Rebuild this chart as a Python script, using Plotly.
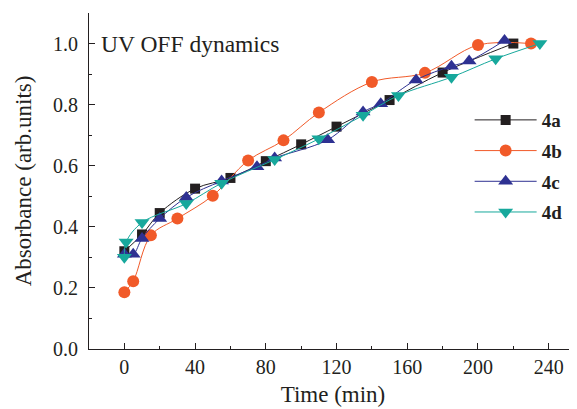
import plotly.graph_objects as go

t_4a = [0, 10, 20, 40, 60, 80, 100, 120, 150, 180, 220]
v_4a = [0.32, 0.375, 0.445, 0.525, 0.56, 0.615, 0.67, 0.728, 0.815, 0.905, 1.0]

t_4b = [0, 5, 15, 30, 50, 70, 90, 110, 140, 170, 200, 230]
v_4b = [0.186, 0.222, 0.372, 0.427, 0.502, 0.617, 0.683, 0.774, 0.874, 0.904, 0.995, 1.0]

t_4c = [0, 5, 10, 20, 35, 55, 75, 85, 115, 135, 145, 165, 185, 195, 215]
v_4c = [0.31, 0.31, 0.362, 0.427, 0.496, 0.55, 0.597, 0.625, 0.685, 0.776, 0.803, 0.881, 0.926, 0.943, 1.01]

t_4d = [0, 1, 10, 35, 55, 85, 110, 135, 155, 185, 210, 235]
v_4d = [0.30, 0.35, 0.414, 0.476, 0.543, 0.62, 0.688, 0.765, 0.83, 0.89, 0.95, 1.0]

x_ticks = [0, 40, 80, 120, 160, 200, 240]
y_ticks = [0.0, 0.2, 0.4, 0.6, 0.8, 1.0]

SERIF = "Liberation Serif, Times New Roman, serif"

series = [
    ("4a", t_4a, v_4a, "#231f20", "square", 10),
    ("4b", t_4b, v_4b, "#f15a29", "circle", 12),
    ("4c", t_4c, v_4c, "#2e3192", "triangle-up", 13),
    ("4d", t_4d, v_4d, "#17a89c", "triangle-down", 13),
]

fig = go.Figure()
for name, t, v, col, sym, sz in series:
    fig.add_trace(go.Scatter(
        x=t, y=v, name=name, mode="lines+markers",
        line=dict(color=col, width=1, shape="spline", smoothing=1),
        marker=dict(symbol=sym, size=sz, color=col, line=dict(width=0)),
        legendgroup=name,
    ))

axis_common = dict(
    showline=True, linecolor="#231f20", linewidth=1,
    ticks="inside", ticklen=6, tickwidth=1, tickcolor="#231f20",
    showgrid=False, zeroline=False, mirror=False, automargin=False,
    tickfont=dict(family=SERIF, size=20, color="#231f20"),
)

fig.update_xaxes(
    range=[-20, 256], tickvals=x_ticks, ticktext=[str(v) for v in x_ticks],
    minor=dict(ticks="inside", ticklen=3, dtick=20, tick0=0, tickcolor="#231f20"),
    title=dict(text="Time (min)", font=dict(family=SERIF, size=23, color="#231f20"), standoff=8),
    **axis_common,
)
fig.update_yaxes(
    range=[0, 1.1], tickvals=y_ticks, ticktext=[f"{v:.1f}" for v in y_ticks],
    minor=dict(ticks="inside", ticklen=3, dtick=0.1, tick0=0, tickcolor="#231f20"),
    ticklabelstandoff=6,
    title=dict(text="Absorbance (arb.units)", font=dict(family=SERIF, size=23, color="#231f20"), standoff=14),
    **axis_common,
)

fig.add_annotation(
    x=0.02, y=1.0, xref="paper", yref="y", xanchor="left", yanchor="middle",
    text="UV OFF dynamics", showarrow=False,
    font=dict(family=SERIF, size=23.5, color="#231f20"),
)

fig.update_layout(
    width=569, height=401,
    margin=dict(l=81, r=0, t=5, b=60),
    paper_bgcolor="white", plot_bgcolor="white",
    showlegend=True,
    legend=dict(
        x=0.78, y=0.738, xanchor="left", yanchor="top",
        font=dict(family=SERIF, size=19, color="#231f20", weight="bold"),
        itemwidth=62, tracegroupgap=3, bgcolor="rgba(0,0,0,0)",
    ),
)

fig.write_html("out.html")
